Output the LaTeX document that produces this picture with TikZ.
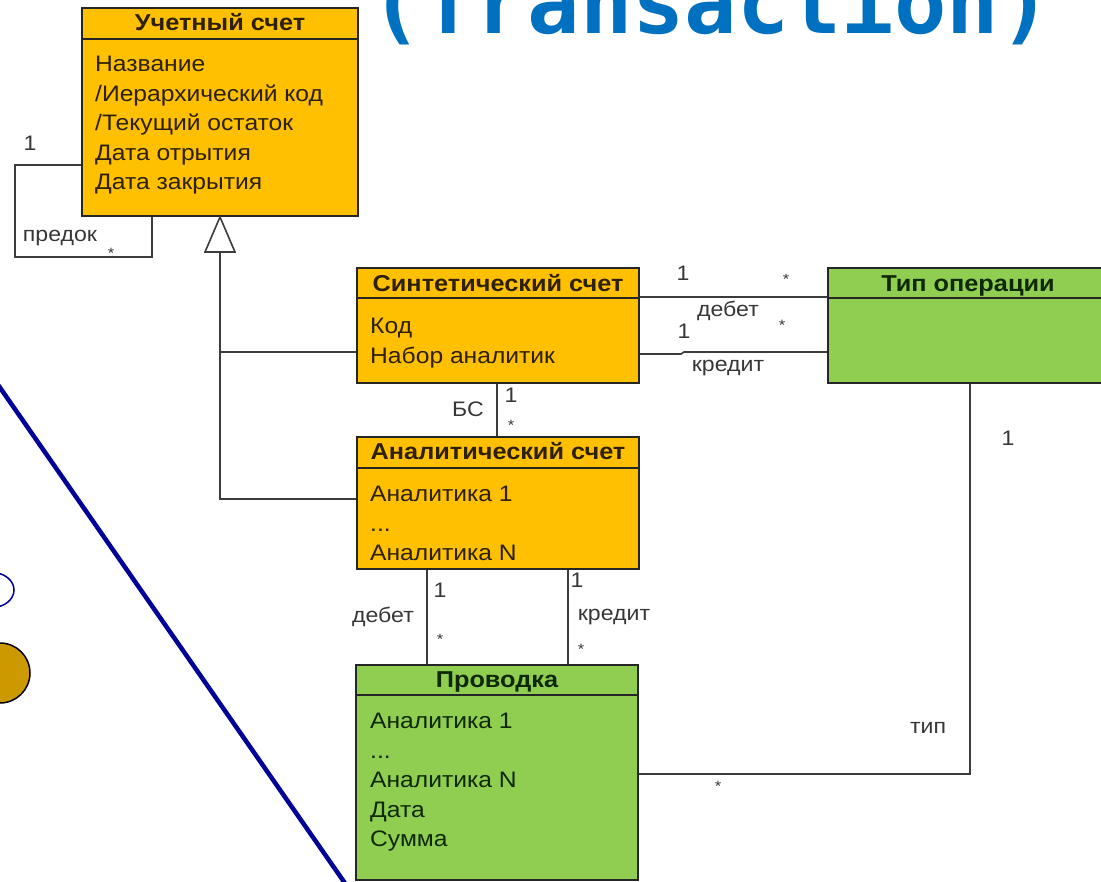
\documentclass[tikz,border=0pt]{standalone}
\usepackage{fontspec}
\setmainfont{Liberation Sans}[FakeStretch=1.1]
\newfontfamily\titlefont{DejaVu Sans Mono}
\usetikzlibrary{calc}
\definecolor{accorange}{RGB}{254,192,0}
\definecolor{accgreen}{RGB}{143,206,80}
\definecolor{orangetext}{RGB}{45,32,5}
\definecolor{greentext}{RGB}{15,40,5}
\definecolor{connline}{RGB}{60,60,60}
\definecolor{labeltext}{RGB}{55,55,55}
\definecolor{titleblue}{RGB}{0,112,192}
\definecolor{slideblue}{RGB}{0,0,150}
\definecolor{goldfill}{RGB}{204,153,0}
\tikzset{
  classbox/.style={draw=black!85, line width=2pt, inner sep=0pt},
  header/.style={anchor=base, inner sep=0pt, font=\fontsize{23}{26}\selectfont\bfseries},
  body/.style={anchor=north west, inner sep=0pt, align=left, font=\fontsize{22.4}{29.5}\selectfont},
  conn/.style={draw=connline, line width=1.6pt},
  lbl/.style={inner sep=0pt, text=labeltext, font=\fontsize{21}{24}\selectfont},
  star/.style={inner sep=0pt, text=labeltext, font=\fontsize{15}{16}\selectfont},
}
\begin{document}
\begin{tikzpicture}[x=1pt,y=-1pt]
\useasboundingbox (0,0) rectangle (1101,882);
\begin{scope}
\clip (0,0) rectangle (1101,882);

% title
\node[anchor=base, inner sep=0pt, text=titleblue, font=\fontsize{87}{87}\selectfont\titlefont\bfseries] (title) at (711,34) {(Transaction)};

% slide decorations
\draw[slideblue, line width=4.5pt] (-6,379) -- (349,889);
\draw[slideblue, line width=1.5pt] (-8,590) ellipse [x radius=22, y radius=17.5];
\draw[black, line width=1.5pt, fill=goldfill] (0,673) circle [radius=30];

% classes
\node[classbox, fill=accorange, minimum width=276pt, minimum height=208pt] (uchet) at (220,112) {};
\draw[black!85, line width=2pt] (uchet.west |- 0,39) -- (uchet.east |- 0,39);
\node[header, text=orangetext] (uchetT) at (220,30.5) {Учетный счет};
\node[body, text=orangetext] (uchetB) at (95,56) {Название\\/Иерархический код\\/Текущий остаток\\Дата отрытия\\Дата закрытия};

\node[classbox, fill=accorange, minimum width=282pt, minimum height=115pt] (synth) at (498,325.5) {};
\draw[black!85, line width=2pt] (synth.west |- 0,298) -- (synth.east |- 0,298);
\node[header, text=orangetext] (synthT) at (498,291.5) {Синтетический счет};
\node[body, text=orangetext] (synthB) at (370,318) {Код\\Набор аналитик};

\node[classbox, fill=accgreen, minimum width=280pt, minimum height=115pt] (tip) at (968,325.5) {};
\draw[black!85, line width=2pt] (tip.west |- 0,298) -- (tip.east |- 0,298);
\node[header, text=greentext] (tipT) at (968,291.5) {Тип операции};

\node[classbox, fill=accorange, minimum width=282pt, minimum height=132pt] (anal) at (498,503) {};
\draw[black!85, line width=2pt] (anal.west |- 0,468) -- (anal.east |- 0,468);
\node[header, text=orangetext] (analT) at (498,459.5) {Аналитический счет};
\node[body, text=orangetext] (analB) at (370,486) {Аналитика 1\\...\\Аналитика N};

\node[classbox, fill=accgreen, minimum width=282pt, minimum height=215pt] (prov) at (497,772.5) {};
\draw[black!85, line width=2pt] (prov.west |- 0,695) -- (prov.east |- 0,695);
\node[header, text=greentext] (provT) at (497,687.5) {Проводка};
\node[body, text=greentext] (provB) at (370,713) {Аналитика 1\\...\\Аналитика N\\Дата\\Сумма};

% self association
\coordinate (loopA) at (15,165);
\coordinate (loopB) at (152,257);
\draw[conn] (uchet.west |- loopA) -- (loopA) |- (loopB) -- (uchet.south -| loopB);
\node[lbl] (l1) at (30,143) {1};
\node[lbl] (lpredok) at (60,238) {предок};
\node[star] (lps) at (111,253) {*};

% generalization
\coordinate (trib) at ($(uchet.south)+(0,35)$);
\draw[conn, fill=white] (uchet.south) -- ($(trib)+(-15,0)$) -- ($(trib)+(15,0)$) -- cycle;
\coordinate (junc) at (220,352);
\draw[conn] (trib) |- (anal.west |- 0,499);
\draw[conn] (junc) -- (synth.west |- junc);

% synth - tip
\coordinate (deb) at (0,297);
\coordinate (kre) at (0,354);
\coordinate (kstep) at (681,354);
\draw[conn] (synth.east |- deb) -- (tip.west |- deb);
\draw[conn] (synth.east |- kre) -- (kstep) -- ++(3,-2) -- (tip.west |- 0,352);
\node[lbl] (s1) at (683,273) {1};
\node[star] (s2) at (786,279) {*};
\node[lbl] (sdeb) at (728,311) {дебет};
\node[star] (s3) at (782,325) {*};
\node[lbl] (s4) at (684,331) {1};
\node[lbl] (skre) at (728,368) {кредит};

% BS
\coordinate (bsx) at (497,0);
\draw[conn] (synth.south -| bsx) -- (anal.north -| bsx);
\node[lbl] (bs) at (468,409) {БС};
\node[lbl] (bs1) at (511,395) {1};
\node[star] (bs2) at (511,425) {*};

% anal - prov
\coordinate (dx) at (427,0);
\coordinate (kx) at (568,0);
\draw[conn] (anal.south -| dx) -- (prov.north -| dx);
\draw[conn] (anal.south -| kx) -- (prov.north -| kx);
\node[lbl] (a1) at (440,590) {1};
\node[lbl] (adeb) at (383,617) {дебет};
\node[star] (a2) at (440,639) {*};
\node[lbl] (a3) at (577,580) {1};
\node[lbl] (akre) at (614,617) {кредит};
\node[star] (a4) at (581,649) {*};

% prov - tip
\coordinate (tx) at (970,774);
\draw[conn] (prov.east |- tx) -| (tip.south -| tx);
\node[lbl] (t1) at (1008,438) {1};
\node[lbl] (ttip) at (928,728) {тип};
\node[star] (t2) at (718,786) {*};
\end{scope}
\end{tikzpicture}
\end{document}
